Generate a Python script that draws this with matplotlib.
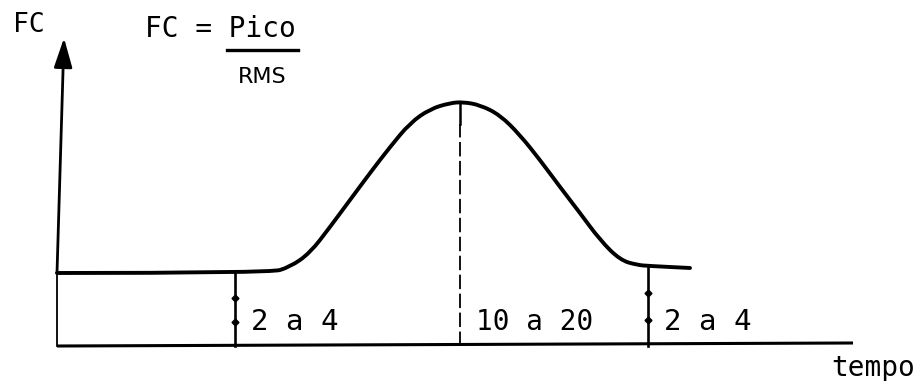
import matplotlib
matplotlib.use("Agg")
from matplotlib import pyplot as plt
from matplotlib.path import Path
from matplotlib.patches import PathPatch

# crest factor curve over time (arbitrary units)
tempo = [0.00, 2.13, 2.33, 2.53, 2.73, 2.93, 3.13, 3.33, 3.53, 3.73, 3.93, 4.06,
         4.23, 4.43, 4.63, 4.83, 5.03, 5.23, 5.43, 5.63, 5.80, 5.93, 6.33]
fc = [0.73, 0.73, 0.79, 0.93, 1.19, 1.46, 1.73, 1.99, 2.23, 2.37, 2.43, 2.44,
      2.41, 2.31, 2.11, 1.86, 1.59, 1.33, 1.06, 0.86, 0.81, 0.80, 0.78]

# dimension lines: position, height, label
marks_t = [1.78, 4.03, 5.91]
marks_fc = [0.73, 2.44, 0.80]
marks_label = ["2 a 4", "10 a 20", "2 a 4"]

MONO = "DejaVu Sans Mono"


def smooth_path(xs, ys):
    # quadratic bezier through the midpoints, read points act as controls
    verts = [(xs[0], ys[0])]
    codes = [Path.MOVETO]
    for i in range(1, len(xs) - 1):
        mid = ((xs[i] + xs[i + 1]) / 2, (ys[i] + ys[i + 1]) / 2)
        verts += [(xs[i], ys[i]), mid]
        codes += [Path.CURVE3, Path.CURVE3]
    verts.append((xs[-1], ys[-1]))
    codes.append(Path.LINETO)
    return Path(verts, codes)


fig = plt.figure(figsize=(9.15, 3.81), dpi=100)
ax = fig.add_axes([0, 0, 1, 1])
ax.set_xlim(-0.57, 8.58)
ax.set_ylim(-0.35, 3.46)
ax.axis("off")

# axes drawn by hand
ax.plot([0, 0], [0, 0.73], color="k", lw=1.3)
ax.annotate("", xy=(0.07, 3.08), xytext=(0, 0.73),
            arrowprops=dict(arrowstyle="-|>,head_length=0.9,head_width=0.28",
                            mutation_scale=20, lw=2.0, color="k",
                            shrinkA=0, shrinkB=0))
ax.plot([0, 7.96], [0, 0.03], color="k", lw=2.2, solid_capstyle="butt")

# curve
ax.add_patch(PathPatch(smooth_path(tempo, fc), fill=False, color="k",
                       lw=2.8, capstyle="round", joinstyle="round"))

# vertical markers with labels
for i, (t, h, lab) in enumerate(zip(marks_t, marks_fc, marks_label)):
    if i == 1:
        ax.plot([t, t], [h, h - 0.22], color="k", lw=1.8)
        ax.plot([t, t], [0, h - 0.22], color="k", lw=1.3,
                dashes=(8, 2.5))
    else:
        ax.plot([t, t], [0, h], color="k", lw=1.9)
        ax.plot([t, t], [h * 0.33, h * 0.66], ls="none", marker="D",
                ms=3.5, color="k")
    ax.text(t + 0.16, 0.245, lab, fontsize=21 if i != 1 else 20,
            family=MONO, ha="left", va="center")

# titles
ax.text(-0.44, 3.21, "FC", fontsize=19, family=MONO, ha="left", va="center")
ax.text(0.88, 3.17, "FC = Pico", fontsize=20, family=MONO,
        ha="left", va="center")
ax.plot([1.70, 2.41], [2.96, 2.96], color="k", lw=2.4)
ax.text(2.05, 2.69, "RMS", fontsize=16, family="DejaVu Sans",
        ha="center", va="center")
ax.text(8.58, -0.22, "tempo", fontsize=20, family=MONO,
        ha="right", va="center")

fig.savefig("out.png", dpi=100)
